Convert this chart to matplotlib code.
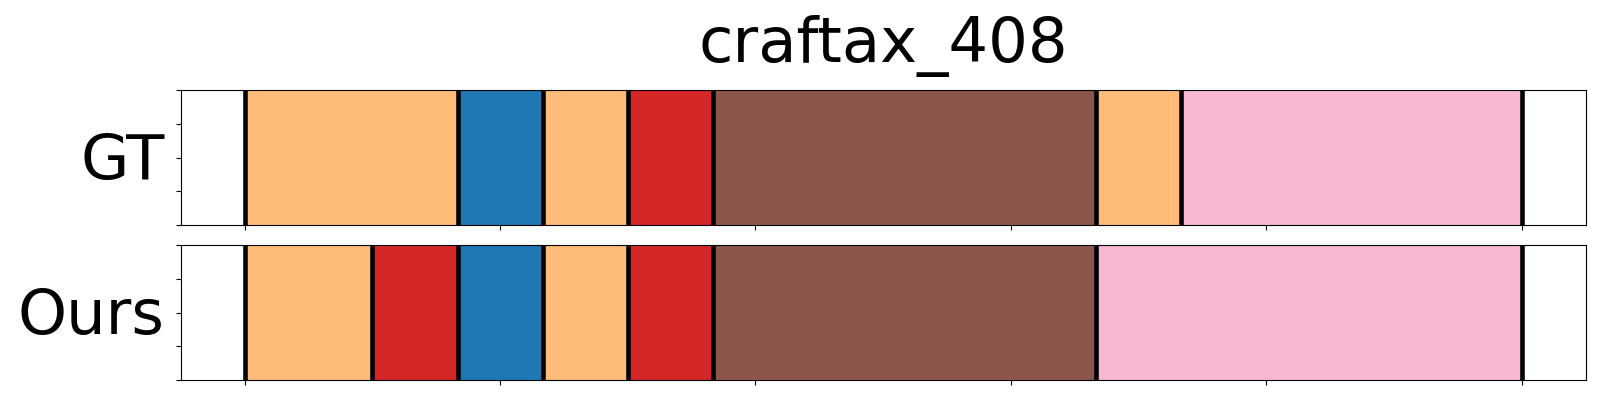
import matplotlib
matplotlib.use("Agg")
import matplotlib.pyplot as plt
import numpy as np

title = "craftax_408"
row_names = ["GT", "Ours"]

# segment boundaries (frame positions) and segment colour classes
gt_bounds = [0, 41.67, 58.33, 75, 91.67, 166.67, 183.33, 250]
gt_classes = ["orange", "blue", "orange", "red", "brown", "orange", "pink"]

ours_bounds = [0, 25, 41.67, 58.33, 75, 91.67, 166.67, 250]
ours_classes = ["orange", "red", "blue", "orange", "red", "brown", "pink"]

palette = {
    "orange": "#ffbb78",
    "blue": "#1f77b4",
    "red": "#d62728",
    "brown": "#8c564b",
    "pink": "#f7b6d2",
}

x_ticks = [0, 50, 100, 150, 200, 250]

fig = plt.figure(figsize=(16, 4), dpi=100)
ax1 = fig.add_axes([0.113, 0.4375, 0.878, 0.3375])
ax2 = fig.add_axes([0.113, 0.05, 0.878, 0.3375])

for ax, name, bounds, classes in [(ax1, row_names[0], gt_bounds, gt_classes),
                                  (ax2, row_names[1], ours_bounds, ours_classes)]:
    for s, e, c in zip(bounds[:-1], bounds[1:], classes):
        ax.axvspan(s, e, ymin=0, ymax=1, color=palette[c], lw=0)
    for b in bounds:
        ax.axvline(b, color="black", lw=3.3)
    ax.set_xlim(-12.5, 262.5)
    ax.set_ylim(0, 1)
    ax.set_xticks(x_ticks)
    ax.set_xticklabels([])
    ax.set_yticks(np.linspace(0, 1, 5))
    ax.set_yticklabels([])
    ax.set_ylabel(name, rotation=0, fontsize=45, ha="right", va="center")
    ax.yaxis.set_label_coords(-0.0115, 0.47)

ax1.set_title(title, fontsize=45, pad=20)

fig.savefig("out.png", dpi=100)
